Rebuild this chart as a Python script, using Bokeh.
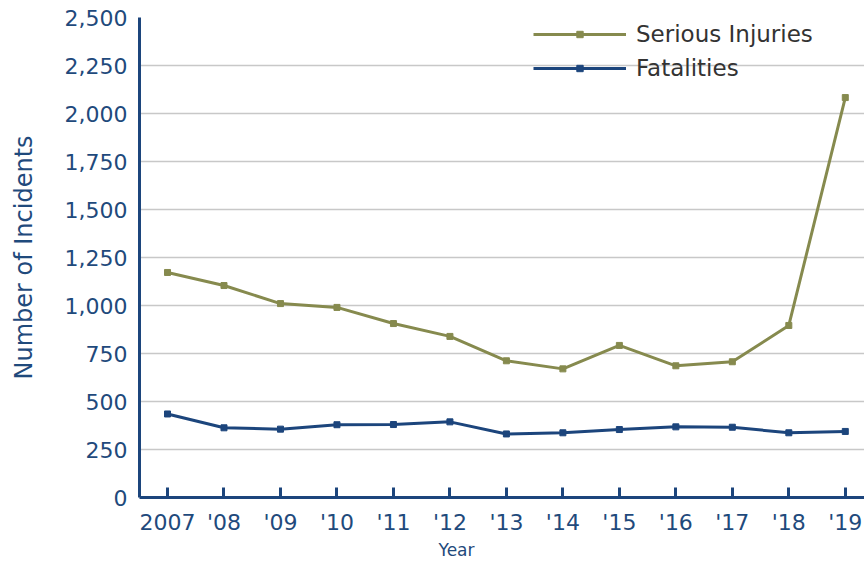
from bokeh.plotting import figure
from bokeh.models import FixedTicker, NumeralTickFormatter, Legend, LegendItem, Range1d, Title
from bokeh.embed import file_html
from bokeh.resources import INLINE

years = [2007, 2008, 2009, 2010, 2011, 2012, 2013, 2014, 2015, 2016, 2017, 2018, 2019]
year_labels = ["2007", "'08", "'09", "'10", "'11", "'12", "'13", "'14", "'15", "'16", "'17", "'18", "'19"]
serious_injuries = [1172, 1104, 1010, 990, 906, 839, 712, 670, 792, 686, 707, 896, 2083]
fatalities = [435, 363, 356, 379, 380, 394, 331, 337, 354, 368, 366, 337, 344]
y_ticks = [0, 250, 500, 750, 1000, 1250, 1500, 1750, 2000, 2250, 2500]

OLIVE = "#868a4e"
BLUE = "#1c457c"
TXT = "#1f4a7c"
FONT = "DejaVu Sans"

p = figure(width=864, height=561, output_backend="svg", toolbar_location=None,
           x_range=Range1d(2006.504, 2019.34), y_range=Range1d(0, 2500),
           min_border_left=139, min_border_right=0, min_border_top=17, min_border_bottom=64)
p.outline_line_color = None
p.background_fill_color = "white"
p.border_fill_color = "white"

l1 = p.line(years, serious_injuries, line_color=OLIVE, line_width=3)
s1 = p.scatter(years, serious_injuries, marker="square", size=6, fill_color=OLIVE, line_color=OLIVE)
l2 = p.line(years, fatalities, line_color=BLUE, line_width=3)
s2 = p.scatter(years, fatalities, marker="square", size=6, fill_color=BLUE, line_color=BLUE)

p.xaxis.ticker = FixedTicker(ticks=years)
p.xaxis.major_label_overrides = {y: lab for y, lab in zip(years, year_labels)}
p.yaxis.ticker = FixedTicker(ticks=y_ticks)
p.yaxis.formatter = NumeralTickFormatter(format="0,0")

for ax in (p.xaxis[0], p.yaxis[0]):
    ax.axis_line_color = BLUE
    ax.axis_line_width = 3
    ax.major_label_text_color = TXT
    ax.major_label_text_font = FONT
    ax.major_label_text_font_size = "22px"
    ax.minor_tick_line_color = None

p.xaxis.major_tick_line_color = BLUE
p.xaxis.major_tick_line_width = 3
p.xaxis.major_tick_in = 10
p.xaxis.major_tick_out = 0
p.xaxis.major_label_standoff = 12

p.yaxis.major_tick_line_color = None
p.yaxis.major_tick_in = 0
p.yaxis.major_tick_out = 0
p.yaxis.major_label_standoff = 12
p.yaxis.axis_label = "Number of Incidents"
p.yaxis.axis_label_text_font = FONT
p.yaxis.axis_label_text_font_size = "24px"
p.yaxis.axis_label_text_font_style = "normal"
p.yaxis.axis_label_text_color = TXT
p.yaxis.axis_label_standoff = 24

p.add_layout(Title(text="Year", align="left", offset=299, text_font=FONT, text_font_size="17px",
                   text_font_style="normal", text_color=TXT, standoff=0), "below")

p.xgrid.grid_line_color = None
p.ygrid.ticker = FixedTicker(ticks=y_ticks)
p.ygrid.grid_line_color = "#c8c8c8"
p.ygrid.grid_line_width = 1.5

legend = Legend(items=[LegendItem(label="Serious Injuries", renderers=[l1, s1]),
                       LegendItem(label="Fatalities", renderers=[l2, s2])],
                location=(394, 416), padding=0, margin=0, spacing=7,
                glyph_width=93, glyph_height=16, label_height=27, label_standoff=10,
                label_text_font=FONT, label_text_font_size="23px", label_text_color="#333333",
                label_text_baseline="middle",
                border_line_color=None, background_fill_alpha=0)
p.add_layout(legend, "center")

open("out.html", "w").write(file_html(p, INLINE))
